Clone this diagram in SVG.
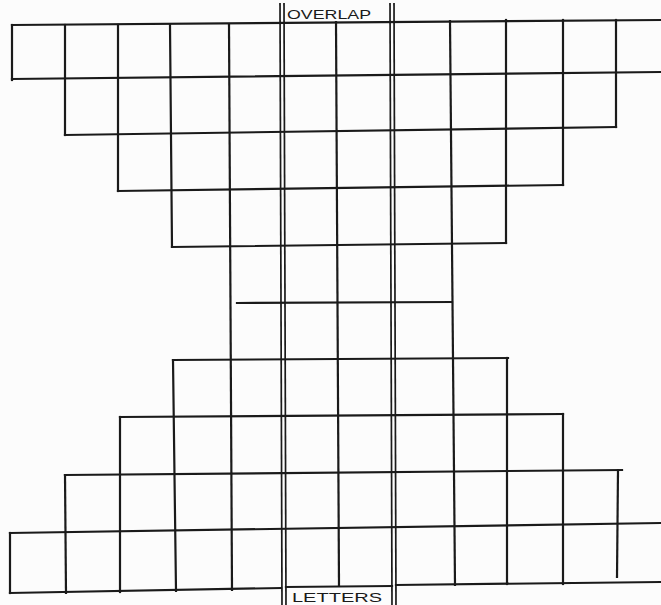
<svg xmlns="http://www.w3.org/2000/svg" width="661" height="605" viewBox="0 0 661 605">
<style>
.ln{stroke:#1a1a1a;stroke-width:2.2;fill:none;stroke-linecap:square}
.dl{stroke:#1a1a1a;stroke-width:1.7;fill:none}
.lbl{font-family:"Liberation Sans",Arial,sans-serif;font-size:13px;fill:#1a1a1a}
</style>
<rect width="661" height="605" fill="#fcfcfc"/>
<g id="grid">
<g id="horizontals">
<path class="ln" d="M12,25 L661,20"/>
<path class="ln" d="M12,79 L661,72"/>
<path class="ln" d="M65,135 L616,127"/>
<path class="ln" d="M118,191 L563,185"/>
<path class="ln" d="M172,247 L506,243"/>
<path class="ln" d="M237,303 L452,302"/>
<path class="ln" d="M173,360 L508,358"/>
<path class="ln" d="M120,417 L563,414"/>
<path class="ln" d="M65,475 L622,470"/>
<path class="ln" d="M10,533 L661,523"/>
<path class="ln" d="M10,593 L281,588"/>
<path class="ln" d="M396,585 L661,582"/>
<path class="ln" d="M286,587 L392,586"/>
</g>
<g id="verticals">
<path class="ln" d="M12,25 L12,80"/>
<path class="ln" d="M10,533 L10,593"/>
<path class="ln" d="M65,25 L65,135"/>
<path class="ln" d="M65,475 L66,593"/>
<path class="ln" d="M118,25 L118,191"/>
<path class="ln" d="M120,417 L120,592"/>
<path class="ln" d="M170,25 L172,247"/>
<path class="ln" d="M173,360 L176,591"/>
<path class="ln" d="M229,25 L232,590"/>
<path class="ln" d="M336,22 L339,586"/>
<path class="ln" d="M450,21 L455,585"/>
<path class="ln" d="M506,20 L506,243"/>
<path class="ln" d="M507,358 L507,584"/>
<path class="ln" d="M563,20 L563,185"/>
<path class="ln" d="M563,414 L563,584"/>
<path class="ln" d="M616,20 L616,127"/>
<path class="ln" d="M618,470 L617,577"/>
</g>
<g id="overlap-band">
<path class="dl" d="M280,3 L282,605"/>
<path class="dl" d="M284,3 L286,605"/>
<path class="dl" d="M390,3 L392,605"/>
<path class="dl" d="M394,3 L396,605"/>
</g>
</g>
<g id="label-overlap">
<text class="lbl" x="287" y="19" textLength="84" lengthAdjust="spacingAndGlyphs">OVERLAP</text>
</g>
<g id="label-letters">
<text class="lbl" x="292" y="602" textLength="90" lengthAdjust="spacingAndGlyphs">LETTERS</text>
</g>
</svg>
